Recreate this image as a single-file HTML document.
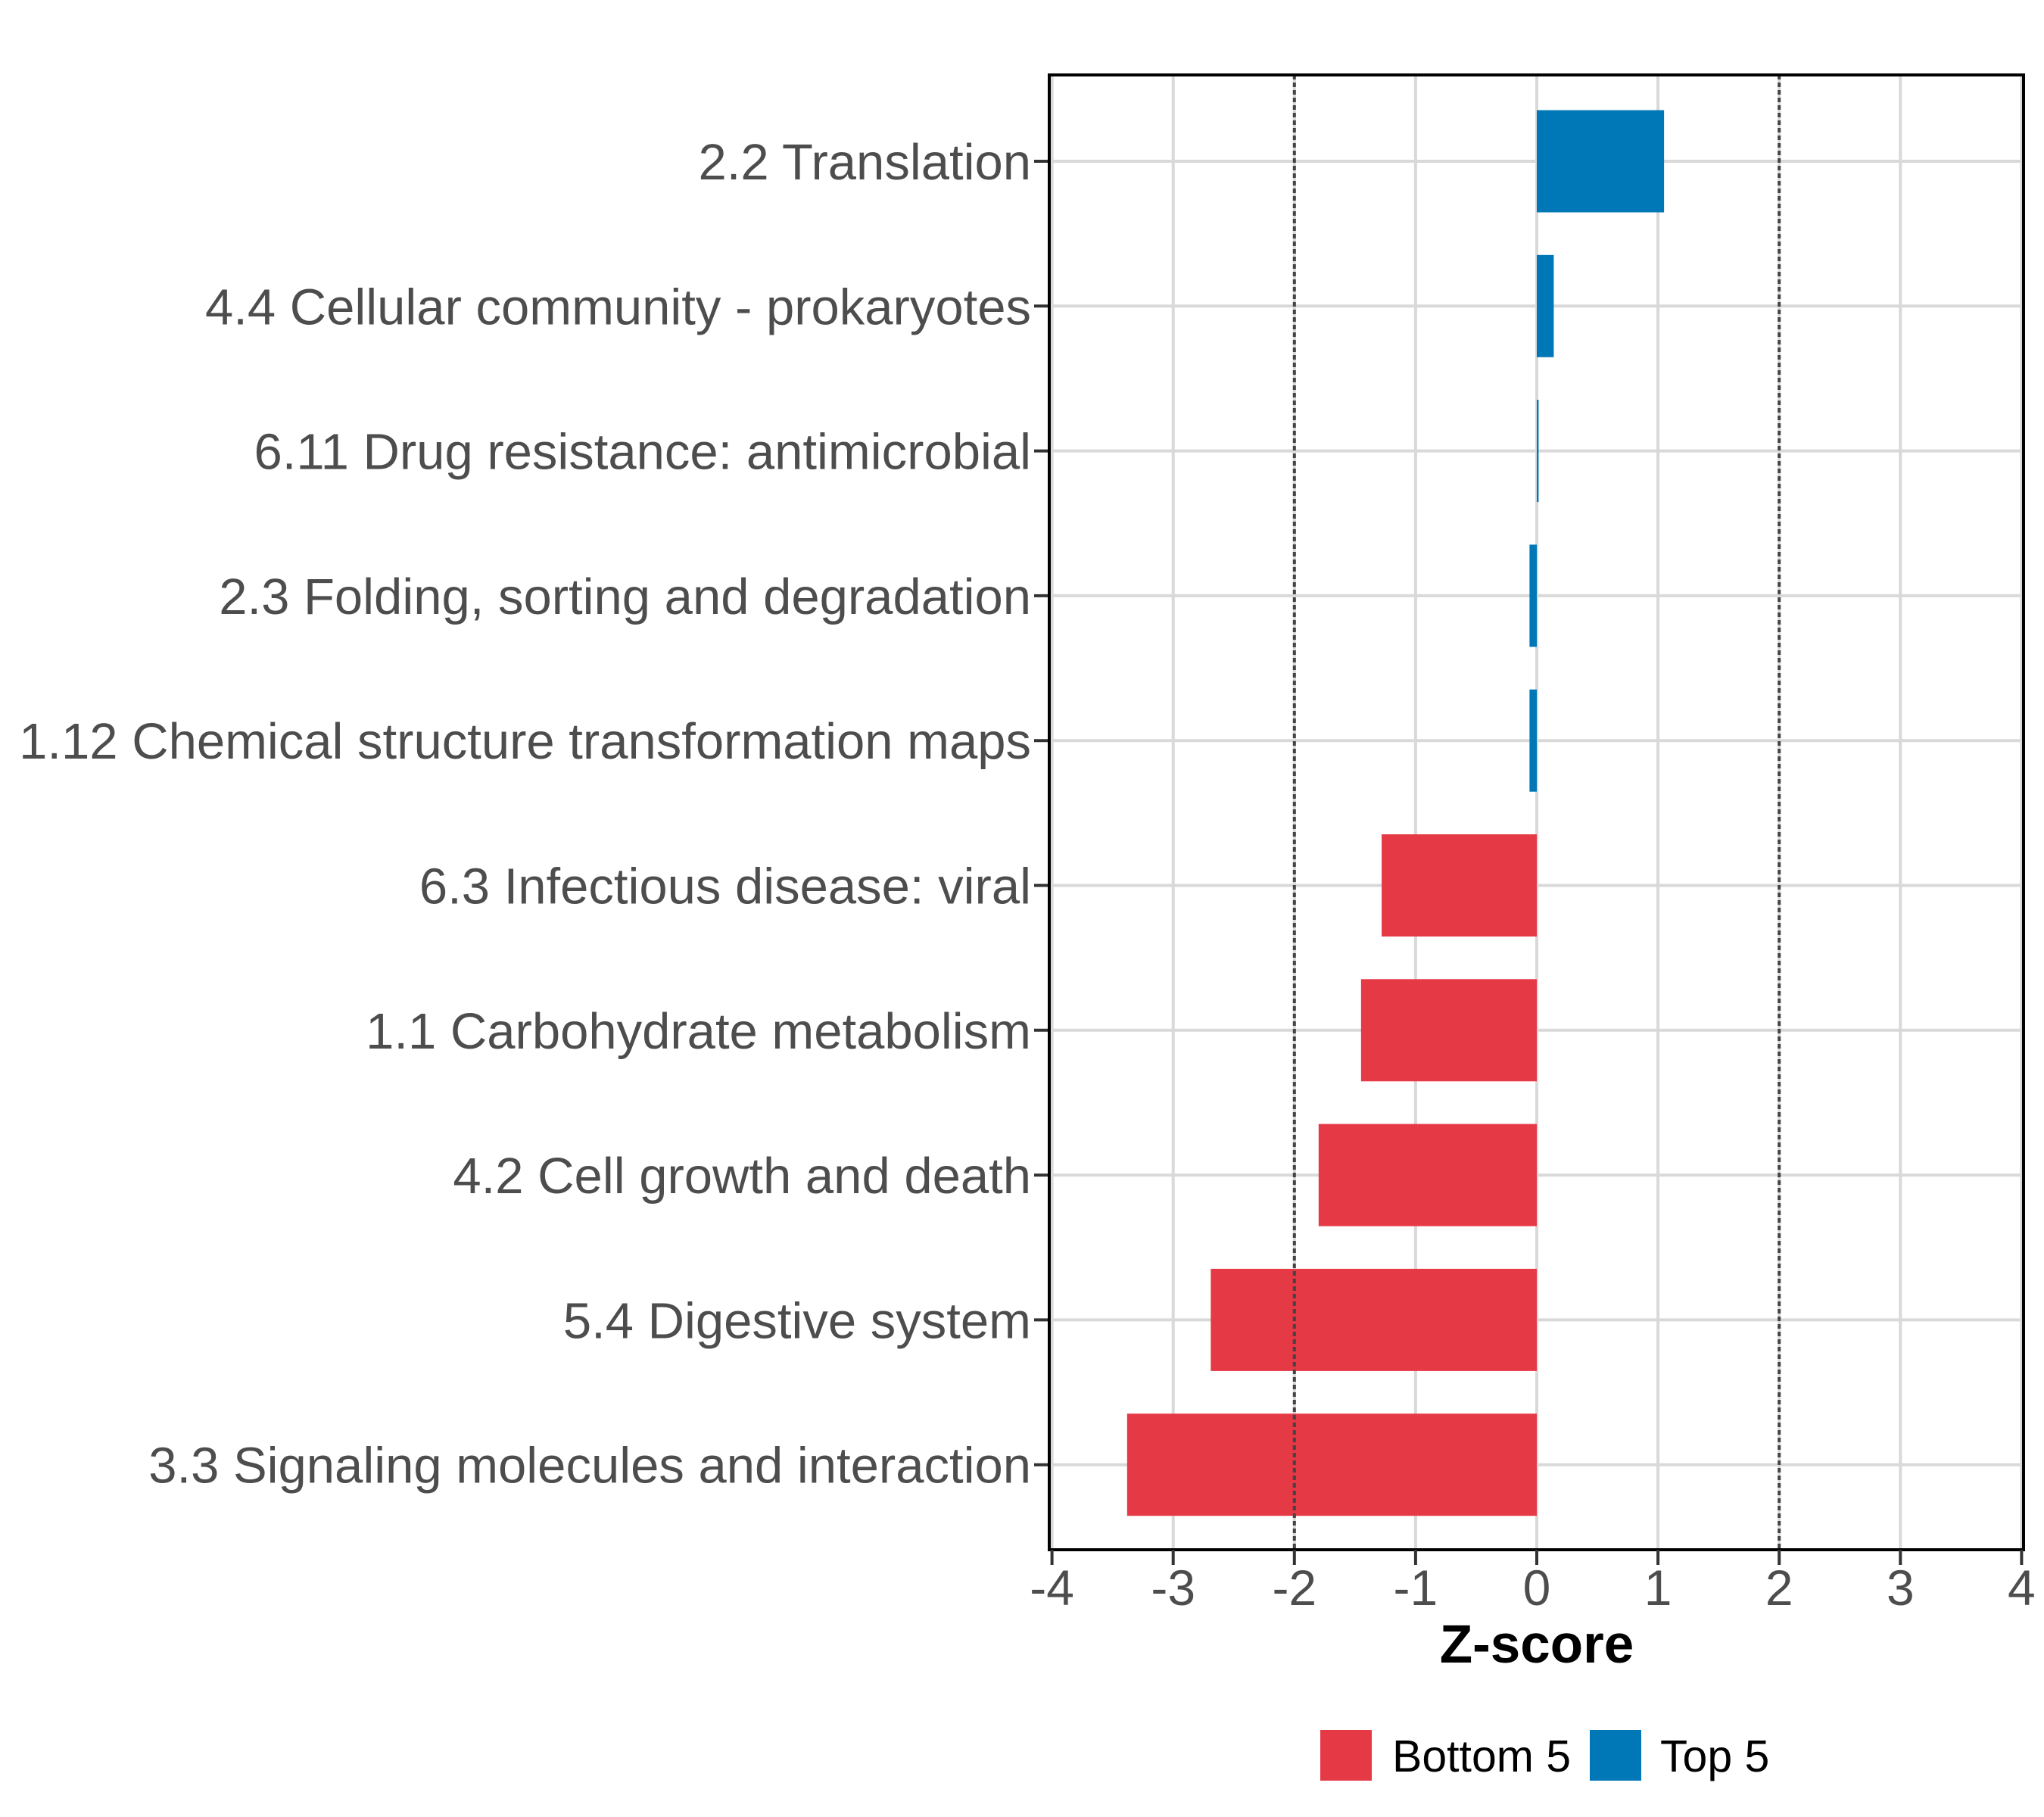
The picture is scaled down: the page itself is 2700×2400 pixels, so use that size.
<!DOCTYPE html>
<html><head><meta charset="utf-8"><style>
html,body{margin:0;padding:0;background:#fff;}
svg{display:block;font-family:"Liberation Sans",Arial,sans-serif;}
</style></head><body>
<svg id="chart" width="2700" height="2400" viewBox="0 0 2700 2400">
<g id="grid"></g>
<g id="bars"></g>
<g id="axes"></g>
<text x="2030" y="2196" text-anchor="middle" font-size="71" font-weight="bold" fill="#000">Z-score</text>
<g>
<rect x="1744" y="2285" width="68" height="67" fill="#e63946"/>
<text x="1839" y="2340" font-size="59" fill="#000">Bottom 5</text>
<rect x="2100" y="2285" width="68" height="67" fill="#0077b6"/>
<text x="2193" y="2340" font-size="59" fill="#000">Top 5</text>
</g>
</svg>
<script>
const categories = ["2.2 Translation","4.4 Cellular community - prokaryotes","6.11 Drug resistance: antimicrobial","2.3 Folding, sorting and degradation","1.12 Chemical structure transformation maps","6.3 Infectious disease: viral","1.1 Carbohydrate metabolism","4.2 Cell growth and death","5.4 Digestive system","3.3 Signaling molecules and interaction"];
const zscores = [1.05,0.14,0.015,-0.06,-0.06,-1.28,-1.45,-1.80,-2.69,-3.38];
const groups = ["Top 5","Top 5","Top 5","Top 5","Top 5","Bottom 5","Bottom 5","Bottom 5","Bottom 5","Bottom 5"];
const xTicks = [-4,-3,-2,-1,0,1,2,3,4];
const xTickLabels = ["-4","-3","-2","-1","0","1","2","3","4"];
const thresholds = [-2,2];

const NS="http://www.w3.org/2000/svg";
const PL=1386,PR=2673,PT=99,PB=2047;
const xScale=v=>2030+v*160.1;
const yScale=i=>213+i*191.3;
const barH=135;
const colors={"Top 5":"#0077b6","Bottom 5":"#e63946"};
function mk(tag,attrs,parent){const e=document.createElementNS(NS,tag);for(const k in attrs)e.setAttribute(k,attrs[k]);parent.appendChild(e);return e;}
const grid=document.getElementById('grid'),bars=document.getElementById('bars'),axes=document.getElementById('axes');
xTicks.forEach((t,i)=>{
  const g=mk('line',{x1:xScale(t),x2:xScale(t),y1:PT,y2:PB,stroke:'#d9d9d9','stroke-width':4},grid);
  
  
});
categories.forEach((c,i)=>{
  const g=mk('line',{x1:PL,x2:PR,y1:yScale(i),y2:yScale(i),stroke:'#d9d9d9','stroke-width':4},grid);
  
  
});
categories.forEach((c,i)=>{
  const v=zscores[i];
  const x0=Math.min(xScale(0),xScale(v)),w=Math.abs(xScale(v)-xScale(0));
  const r=mk('rect',{x:x0,y:yScale(i)-barH/2,width:Math.max(w,2),height:barH,fill:colors[groups[i]]},bars);
  
  
  const tk=mk('line',{x1:PL-20,x2:PL,y1:yScale(i),y2:yScale(i),stroke:'#333','stroke-width':4},axes);
  
  
  const t=mk('text',{x:PL-24,y:yScale(i)+24,'text-anchor':'end','font-size':67,fill:'#4d4d4d'},axes);
  t.textContent=c;
  
  
});
thresholds.forEach(v=>{
  const l=mk('line',{x1:xScale(v),x2:xScale(v),y1:PT,y2:PB,stroke:'#444','stroke-width':4,'stroke-dasharray':'6 4'},axes);
  
  
});
const fr=mk('rect',{x:PL,y:PT,width:PR-PL,height:PB-PT,fill:'none',stroke:'#000','stroke-width':4},axes);


xTicks.forEach((t,i)=>{
  const tk=mk('line',{x1:xScale(t),x2:xScale(t),y1:PB,y2:PB+20,stroke:'#333','stroke-width':4},axes);
  
  
  const tl=mk('text',{x:xScale(t),y:2120,'text-anchor':'middle','font-size':66,fill:'#4d4d4d'},axes);
  tl.textContent=xTickLabels[i];
  
  
});
</script>
</body></html>
